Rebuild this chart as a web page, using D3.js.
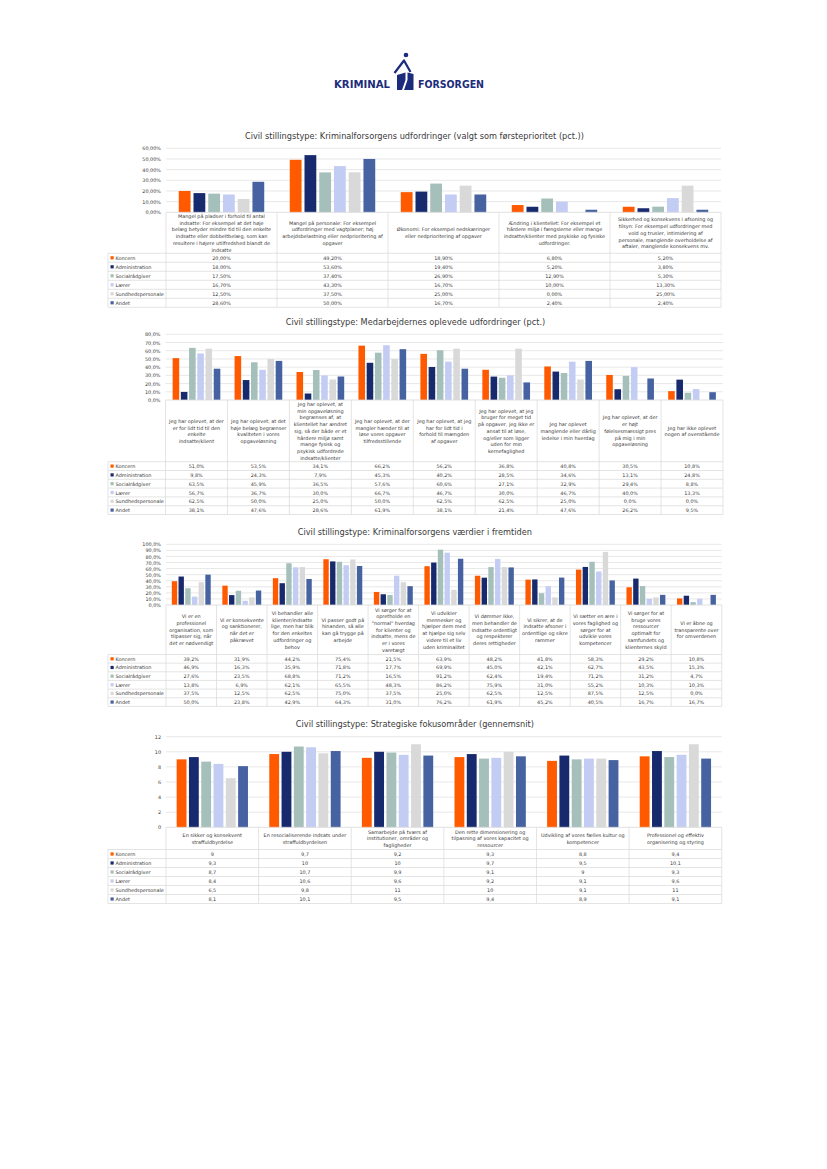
<!DOCTYPE html>
<html><head><meta charset="utf-8">
<script src="https://cdn.jsdelivr.net/npm/d3@7"></script>
<style>
body{margin:0;background:#fff}
svg{display:block}
text{font-family:"DejaVu Sans",Verdana,sans-serif;fill:#3a3a3a}
</style>
</head><body>
<svg id="page" width="827" height="1169"></svg>
<script>
// ---------- shared series ----------
const seriesNames = ["Koncern","Administration","Socialrådgiver","Lærer","Sundhedspersonale","Andet"];
const seriesColors = ["#FF5A00","#172A6E","#A5BFBB","#C3CDF4","#D9D9D9","#4662A0"];

// ---------- chart 1 ----------
const c1Title = "Civil stillingstype: Kriminalforsorgens udfordringer (valgt som førsteprioritet (pct.))";
const c1Categories = [
  "Mangel på pladser i forhold til antal\nindsatte: For eksempel at det høje\nbelæg betyder mindre tid til den enkelte\nindsatte eller dobbeltbelæg, som kan\nresultere i højere utilfredshed blandt de\nindsatte",
  "Mangel på personale: For eksempel\nudfordringer med vagtplaner; høj\narbejdsbelastning eller nedprioritering af\nopgaver",
  "Økonomi: For eksempel nedskæringer\neller nedprioritering af opgaver",
  "Ændring i klientellet: For eksempel et\nhårdere miljø i fængslerne eller mange\nindsatte/klienter med psykiske og fysiske\nudfordringer.",
  "Sikkerhed og konsekvens i afsoning og\ntilsyn: For eksempel udfordringer med\nvold og trusler, intimidering af\npersonale, manglende overholdelse af\naftaler, manglende konsekvens mv."
];
const c1Values = [
  [20.0, 49.2, 18.9, 6.8, 5.2],
  [18.0, 53.6, 19.4, 5.2, 3.8],
  [17.5, 37.4, 26.9, 12.9, 5.3],
  [16.7, 43.3, 16.7, 10.0, 13.3],
  [12.5, 37.5, 25.0, 0.0, 25.0],
  [28.6, 50.0, 16.7, 2.4, 2.4]
];
const c1Ticks = [0,10,20,30,40,50,60];

// ---------- chart 2 ----------
const c2Title = "Civil stillingstype: Medarbejdernes oplevede udfordringer (pct.)";
const c2Categories = [
  "Jeg har oplevet, at der\ner for lidt tid til den\nenkelte\nindsatte/klient",
  "Jeg har oplevet, at det\nhøje belæg begrænser\nkvaliteten i vores\nopgaveløsning",
  "Jeg har oplevet, at\nmin opgaveløsning\nbegrænses af, at\nklientellet har ændret\nsig, så der både er et\nhårdere miljø samt\nmange fysisk og\npsykisk udfordrede\nindsatte/klienter",
  "Jeg har oplevet, at der\nmangler hænder til at\nløse vores opgaver\ntilfredsstillende",
  "Jeg har oplevet, at jeg\nhar for lidt tid i\nforhold til mængden\naf opgaver",
  "Jeg har oplevet, at jeg\nbruger for meget tid\npå opgaver, jeg ikke er\nansat til at løse,\nog/eller som ligger\nuden for min\nkernefaglighed",
  "Jeg har oplevet\nmanglende eller dårlig\nledelse i min hverdag",
  "Jeg har oplevet, at der\ner højt\nfølelsesmæssigt pres\npå mig i min\nopgaveløsning",
  "Jeg har ikke oplevet\nnogen af ovenstående"
];
const c2Values = [
  [51.0, 53.5, 34.1, 66.2, 56.2, 36.8, 40.8, 30.5, 10.8],
  [9.8, 24.3, 7.9, 45.3, 40.2, 28.5, 34.6, 13.1, 24.8],
  [63.5, 45.9, 36.5, 57.6, 60.6, 27.1, 32.9, 29.4, 8.8],
  [56.7, 36.7, 30.0, 66.7, 46.7, 30.0, 46.7, 40.0, 13.3],
  [62.5, 50.0, 25.0, 50.0, 62.5, 62.5, 25.0, 0.0, 0.0],
  [38.1, 47.6, 28.6, 61.9, 38.1, 21.4, 47.6, 26.2, 9.5]
];
const c2Ticks = [0,10,20,30,40,50,60,70,80];

// ---------- chart 3 ----------
const c3Title = "Civil stillingstype: Kriminalforsorgens værdier i fremtiden";
const c3Categories = [
  "Vi er en\nprofessionel\norganisation, som\ntilpasser sig, når\ndet er nødvendigt",
  "Vi er konsekvente\nog sanktionerer,\nnår det er\npåkrævet",
  "Vi behandler alle\nklienter/indsatte\nlige, men har blik\nfor den enkeltes\nudfordringer og\nbehov",
  "Vi passer godt på\nhinanden, så alle\nkan gå trygge på\narbejde",
  "Vi sørger for at\nopretholde en\n\"normal\" hverdag\nfor klienter og\nindsatte, mens de\ner i vores\nvaretægt",
  "Vi udvikler\nmennesker og\nhjælper dem med\nat hjælpe sig selv\nvidere til et liv\nuden kriminalitet",
  "Vi dømmer ikke,\nmen behandler de\nindsatte ordentligt\nog respekterer\nderes rettigheder",
  "Vi sikrer, at de\nindsatte afsoner i\nordentlige og sikre\nrammer",
  "Vi sætter en ære i\nvores faglighed og\nsørger for at\nudvikle vores\nkompetencer",
  "Vi sørger for at\nbruge vores\nressourcer\noptimalt for\nsamfundets og\nklienternes skyld",
  "Vi er åbne og\ntransparente over\nfor omverdenen"
];
const c3Values = [
  [39.2, 31.9, 44.2, 75.4, 21.5, 63.9, 48.2, 41.8, 58.3, 29.2, 10.8],
  [46.9, 16.3, 35.9, 71.8, 17.7, 69.9, 45.0, 42.1, 62.7, 43.5, 15.3],
  [27.6, 23.5, 68.8, 71.2, 16.5, 91.2, 62.4, 19.4, 71.2, 31.2, 4.7],
  [13.8, 6.9, 62.1, 65.5, 48.3, 86.2, 75.9, 31.0, 55.2, 10.3, 10.3],
  [37.5, 12.5, 62.5, 75.0, 37.5, 25.0, 62.5, 12.5, 87.5, 12.5, 0.0],
  [50.0, 23.8, 42.9, 64.3, 31.0, 76.2, 61.9, 45.2, 40.5, 16.7, 16.7]
];
const c3Ticks = [0,10,20,30,40,50,60,70,80,90,100];

// ---------- chart 4 ----------
const c4Title = "Civil stillingstype: Strategiske fokusområder (gennemsnit)";
const c4Categories = [
  "En sikker og konsekvent\nstraffuldbyrdelse",
  "En resocialiserende indsats under\nstraffuldbyrdelsen",
  "Samarbejde på tværs af\ninstitutioner, områder og\nfagligheder",
  "Den rette dimensionering og\ntilpasning af vores kapacitet og\nressourcer",
  "Udvikling af vores fælles kultur og\nkompetencer",
  "Professionel og effektiv\norganisering og styring"
];
const c4Values = [
  [9, 9.7, 9.2, 9.3, 8.8, 9.4],
  [9.3, 10, 10, 9.7, 9.5, 10.1],
  [8.7, 10.7, 9.9, 9.1, 9, 9.3],
  [8.4, 10.6, 9.6, 9.2, 9.1, 9.6],
  [6.5, 9.8, 11, 10, 9.1, 11],
  [8.1, 10.1, 9.5, 9.4, 8.9, 9.1]
];
const c4Ticks = [0,2,4,6,8,10,12];

// ---------- formatting ----------
const comma = s => s.replace(".", ",");
const fmtPct2 = v => comma(v.toFixed(2)) + "%";
const fmtPct1 = v => comma(v.toFixed(1)) + "%";
const fmtNum = v => comma(String(v));

// ---------- drawing ----------
const svg = d3.select("#page");
const GRID = "#D9D9D9";
const LEGEND_X = 108;
const FS = 4.9;      // table / axis font size
const LH = 6.7;      // label line height

function drawChart(cfg) {
  const {title, categories, values, ticks, tickFmt, valFmt, L} = cfg;
  const g = svg.append("g");
  const y = d3.scaleLinear().domain([0, d3.max(ticks)]).range([L.zero, L.top]);
  const x = d3.scaleBand().domain(d3.range(categories.length)).range([L.x0, L.x1]).padding(0);
  const bw = x.bandwidth();
  const pad = bw * 0.115;
  const xs = d3.scaleBand().domain(d3.range(seriesNames.length)).range([pad, bw - pad]).paddingInner(0.2);

  // title
  g.append("text").attr("x", (LEGEND_X + L.x1) / 2).attr("y", L.titleY)
    .attr("text-anchor", "middle").attr("dominant-baseline", "central")
    .style("font-size", "8.2px").text(title);

  // gridlines
  g.append("g").selectAll("line").data(ticks.filter(t => t > 0)).join("line")
    .attr("x1", L.x0).attr("x2", L.x1)
    .attr("y1", d => y(d)).attr("y2", d => y(d))
    .attr("stroke", GRID).attr("stroke-width", 0.6);

  // y axis
  const ax = g.append("g").attr("transform", `translate(${L.x0},0)`)
    .call(d3.axisLeft(y).tickValues(ticks).tickFormat(tickFmt).tickSize(0).tickPadding(5));
  ax.select(".domain").remove();
  ax.selectAll("text").style("font-size", FS + "px").attr("fill", "#3a3a3a")
    .style("font-family", '"DejaVu Sans",Verdana,sans-serif');

  // bars
  const bars = [];
  values.forEach((row, si) => row.forEach((v, ci) => bars.push({si, ci, v})));
  g.append("g").selectAll("rect").data(bars).join("rect")
    .attr("x", d => x(d.ci) + xs(d.si))
    .attr("width", xs.bandwidth())
    .attr("y", d => y(d.v))
    .attr("height", d => y(0) - y(d.v))
    .attr("fill", d => seriesColors[d.si]);

  // table
  const tb = g.append("g");
  const bottom = L.labelBottom + seriesNames.length * L.rowH;
  tb.append("line").attr("x1", L.x0).attr("x2", L.x1).attr("y1", y(0)).attr("y2", y(0))
    .attr("stroke", GRID).attr("stroke-width", 0.8);
  tb.selectAll("line.v").data(d3.range(categories.length + 1)).join("line").attr("class", "v")
    .attr("x1", i => L.x0 + i * bw).attr("x2", i => L.x0 + i * bw)
    .attr("y1", y(0)).attr("y2", bottom)
    .attr("stroke", GRID).attr("stroke-width", 0.7);
  tb.append("line").attr("x1", LEGEND_X).attr("x2", LEGEND_X)
    .attr("y1", L.labelBottom).attr("y2", bottom).attr("stroke", GRID).attr("stroke-width", 0.7);
  tb.selectAll("line.h").data(d3.range(seriesNames.length + 1)).join("line").attr("class", "h")
    .attr("x1", LEGEND_X).attr("x2", L.x1)
    .attr("y1", i => L.labelBottom + i * L.rowH).attr("y2", i => L.labelBottom + i * L.rowH)
    .attr("stroke", GRID).attr("stroke-width", 0.7);

  // category labels
  const labelMid = (y(0) + L.labelBottom) / 2;
  categories.forEach((c, ci) => {
    const lines = c.split("\n");
    const t = tb.append("text").attr("text-anchor", "middle").style("font-size", FS + "px");
    lines.forEach((ln, li) => {
      t.append("tspan").attr("x", x(ci) + bw / 2)
        .attr("y", labelMid + (li - (lines.length - 1) / 2) * LH)
        .attr("dominant-baseline", "central").text(ln);
    });
  });

  // legend + values rows
  seriesNames.forEach((s, si) => {
    const cy = L.labelBottom + (si + 0.5) * L.rowH;
    tb.append("rect").attr("x", LEGEND_X + 2.5).attr("y", cy - 1.6).attr("width", 3.2).attr("height", 3.2)
      .attr("fill", seriesColors[si]);
    tb.append("text").attr("x", LEGEND_X + 7.5).attr("y", cy).attr("dominant-baseline", "central")
      .style("font-size", FS + "px").text(s);
    values[si].forEach((v, ci) => {
      tb.append("text").attr("x", x(ci) + bw / 2).attr("y", cy).attr("text-anchor", "middle")
        .attr("dominant-baseline", "central").style("font-size", FS + "px").text(valFmt(v));
    });
  });
}

// ---------- logo ----------
(function logo() {
  const NAVY = "#1C2C7C";
  const lg = svg.append("g");
  lg.append("text").attr("x", 334).attr("y", 87.5).text("KRIMINAL")
    .attr("textLength", 56).attr("lengthAdjust", "spacingAndGlyphs")
    .style("font-size", "10px").style("font-weight", "bold")
    .style("font-family", '"DejaVu Sans",sans-serif').style("fill", NAVY);
  lg.append("text").attr("x", 418).attr("y", 87.5).text("FORSORGEN")
    .attr("textLength", 66).attr("lengthAdjust", "spacingAndGlyphs")
    .style("font-size", "10px").style("font-weight", "bold")
    .style("font-family", '"DejaVu Sans",sans-serif').style("fill", NAVY);
  lg.append("circle").attr("cx", 406).attr("cy", 55).attr("r", 2.3).attr("fill", NAVY);
  lg.append("path").attr("d", "M394.5,73 L404,60.5 L410.5,72").attr("fill", "none")
    .attr("stroke", NAVY).attr("stroke-width", 2.2).attr("stroke-linejoin", "round");
  lg.append("path").attr("d", "M397,75 L405.5,72.5 L405.5,80 L402,90 L397,90 Z").attr("fill", NAVY);
  lg.append("path").attr("d", "M407.5,72.5 L413.5,74 L413.5,90 L404,90 L407.5,80 Z").attr("fill", NAVY);
})();

drawChart({title: c1Title, categories: c1Categories, values: c1Values, ticks: c1Ticks,
  tickFmt: fmtPct2, valFmt: fmtPct2,
  L: {titleY: 136, top: 148.3, zero: 212.3, x0: 166, x1: 721, labelBottom: 253.3, rowH: 9}});
drawChart({title: c2Title, categories: c2Categories, values: c2Values, ticks: c2Ticks,
  tickFmt: fmtPct1, valFmt: fmtPct1,
  L: {titleY: 321.7, top: 334.3, zero: 400, x0: 165.5, x1: 723, labelBottom: 461.7, rowH: 8.8}});
drawChart({title: c3Title, categories: c3Categories, values: c3Values, ticks: c3Ticks,
  tickFmt: fmtPct1, valFmt: fmtPct1,
  L: {titleY: 531.7, top: 544.3, zero: 605, x0: 166, x1: 721.7, labelBottom: 654.5, rowH: 8.65}});
drawChart({title: c4Title, categories: c4Categories, values: c4Values, ticks: c4Ticks,
  tickFmt: fmtNum, valFmt: fmtNum,
  L: {titleY: 724, top: 736.7, zero: 827.3, x0: 166, x1: 721.7, labelBottom: 849.5, rowH: 9}});
</script>
</body></html>
